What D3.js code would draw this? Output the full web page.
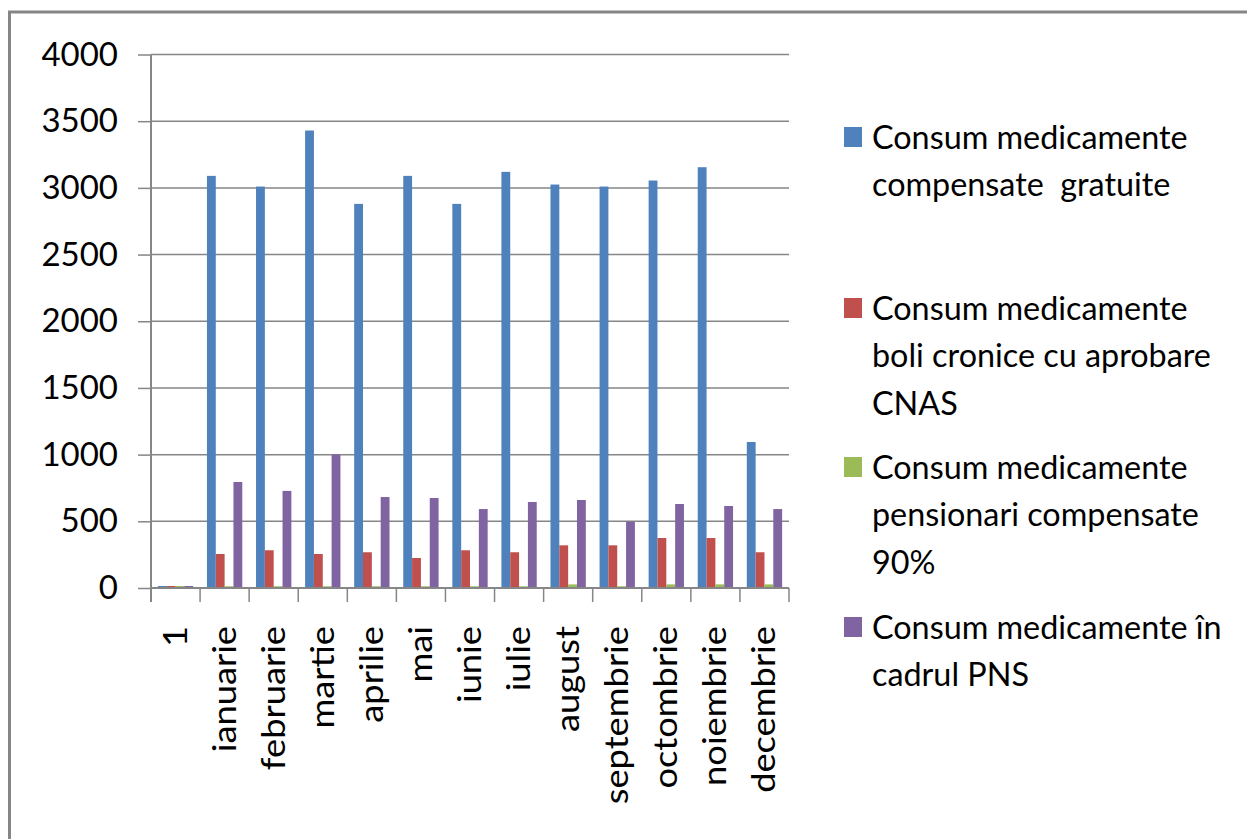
<!DOCTYPE html>
<html>
<head>
<meta charset="utf-8">
<script src="https://cdn.jsdelivr.net/npm/d3@7"></script>
<style>
  html, body { margin: 0; padding: 0; background: #fff; }
  svg { display: block; }
  text { font-family: Lato, "Open Sans", sans-serif; fill: #000; }
</style>
</head>
<body>
<svg id="chart" width="1247" height="839"></svg>
<script>
// Luni (prima categorie este "1")
const categories = ["1", "ianuarie", "februarie", "martie", "aprilie", "mai", "iunie",
  "iulie", "august", "septembrie", "octombrie", "noiembrie", "decembrie"];

// Serii
const seriesNames = [
  "Consum medicamente compensate  gratuite",
  "Consum medicamente boli cronice cu aprobare CNAS",
  "Consum medicamente pensionari compensate 90%",
  "Consum medicamente în cadrul PNS"
];
const legendLines = [
  ["Consum medicamente", "compensate  gratuite"],
  ["Consum medicamente", "boli cronice cu aprobare", "CNAS"],
  ["Consum medicamente", "pensionari compensate", "90%"],
  ["Consum medicamente în", "cadrul PNS"]
];

const gratuite   = [15, 3090, 3010, 3430, 2880, 3090, 2880, 3120, 3025, 3010, 3055, 3155, 1095];
const cronice    = [15, 255, 283, 255, 268, 225, 283, 268, 320, 320, 375, 375, 268];
const pensionari = [15, 13, 13, 13, 13, 13, 13, 13, 27, 13, 27, 27, 27];
const pns        = [15, 795, 728, 1000, 682, 675, 592, 645, 660, 498, 630, 615, 592];

const yTicks = [0, 500, 1000, 1500, 2000, 2500, 3000, 3500, 4000];

const colors = ["#4F81BD", "#C0504D", "#9BBB59", "#8064A2"];
const gridColor = "#868686";

const allSeries = [gratuite, cronice, pensionari, pns];
const rows = categories.map((c, i) => ({
  cat: c,
  values: allSeries.map((s, k) => ({ key: k, value: s[i] }))
}));

const svg = d3.select("#chart");

// outer chart frame
svg.append("rect")
  .attr("x", 9.5).attr("y", 12)
  .attr("width", 1400).attr("height", 1000)
  .attr("fill", "none")
  .attr("stroke", gridColor)
  .attr("stroke-width", 3);

const plot = { left: 151, right: 789, top: 54.5, bottom: 588 };

const x0 = d3.scaleBand()
  .domain(categories)
  .range([plot.left, plot.right])
  .paddingInner(0).paddingOuter(0);

const step = x0.bandwidth();
const x1 = d3.scaleBand()
  .domain(d3.range(4))
  .range([step * 0.14, step * 0.86])
  .padding(0);

const y = d3.scaleLinear()
  .domain([0, 4000])
  .range([plot.bottom, plot.top]);

// horizontal gridlines
svg.append("g")
  .selectAll("line")
  .data(yTicks.filter(t => t > 0))
  .join("line")
  .attr("x1", plot.left).attr("x2", plot.right)
  .attr("y1", d => y(d)).attr("y2", d => y(d))
  .attr("stroke", gridColor)
  .attr("stroke-width", 1.5);

// y axis
const yAxis = d3.axisLeft(y)
  .tickValues(yTicks)
  .tickSize(13)
  .tickPadding(20)
  .tickFormat(d3.format("d"));

const gy = svg.append("g")
  .attr("transform", `translate(${plot.left},0)`)
  .call(yAxis);
gy.select(".domain").remove();
gy.selectAll(".tick line").attr("stroke", gridColor).attr("stroke-width", 1.5);
gy.selectAll(".tick text")
  .attr("font-size", 33)
  .attr("font-family", "Lato, sans-serif")
  .attr("fill", "#000");

svg.append("line")
  .attr("x1", plot.left).attr("x2", plot.left)
  .attr("y1", plot.top).attr("y2", plot.bottom + 14)
  .attr("stroke", gridColor).attr("stroke-width", 2);

// bars
const groups = svg.append("g")
  .selectAll("g")
  .data(rows)
  .join("g")
  .attr("transform", d => `translate(${x0(d.cat)},0)`);

groups.selectAll("rect")
  .data(d => d.values)
  .join("rect")
  .attr("x", d => x1(d.key))
  .attr("width", x1.bandwidth())
  .attr("y", d => y(d.value))
  .attr("height", d => y(0) - y(d.value))
  .attr("fill", d => colors[d.key]);

// x axis
svg.append("line")
  .attr("x1", plot.left).attr("x2", plot.right)
  .attr("y1", plot.bottom).attr("y2", plot.bottom)
  .attr("stroke", gridColor).attr("stroke-width", 2);

const boundaries = categories.map(c => x0(c)).concat([plot.right]);
svg.append("g")
  .selectAll("line")
  .data(boundaries)
  .join("line")
  .attr("x1", d => d).attr("x2", d => d)
  .attr("y1", plot.bottom).attr("y2", plot.bottom + 14)
  .attr("stroke", gridColor).attr("stroke-width", 1.5);

// category labels, rotated and slightly elongated along the reading direction
svg.append("g")
  .selectAll("text")
  .data(categories)
  .join("text")
  .attr("transform", d => `translate(${x0(d) + step / 2 + 11},${plot.bottom + 38}) rotate(-90) scale(1.1,1)`)
  .attr("text-anchor", "end")
  .attr("font-size", 33)
  .text(d => d);

// legend
const legendBaselines = [149, 320, 479, 639];
const legend = svg.append("g");
legendLines.forEach((lines, i) => {
  const base = legendBaselines[i];
  legend.append("rect")
    .attr("x", 844).attr("y", base - 22)
    .attr("width", 18).attr("height", 20)
    .attr("fill", colors[i]);
  const t = legend.append("text")
    .attr("transform", `translate(872,${base}) scale(0.98,1)`)
    .attr("font-size", 33);
  lines.forEach((ln, j) => {
    t.append("tspan")
      .attr("x", 0)
      .attr("y", j * 47.5)
      .attr("xml:space", "preserve")
      .text(ln);
  });
});
</script>
</body>
</html>
